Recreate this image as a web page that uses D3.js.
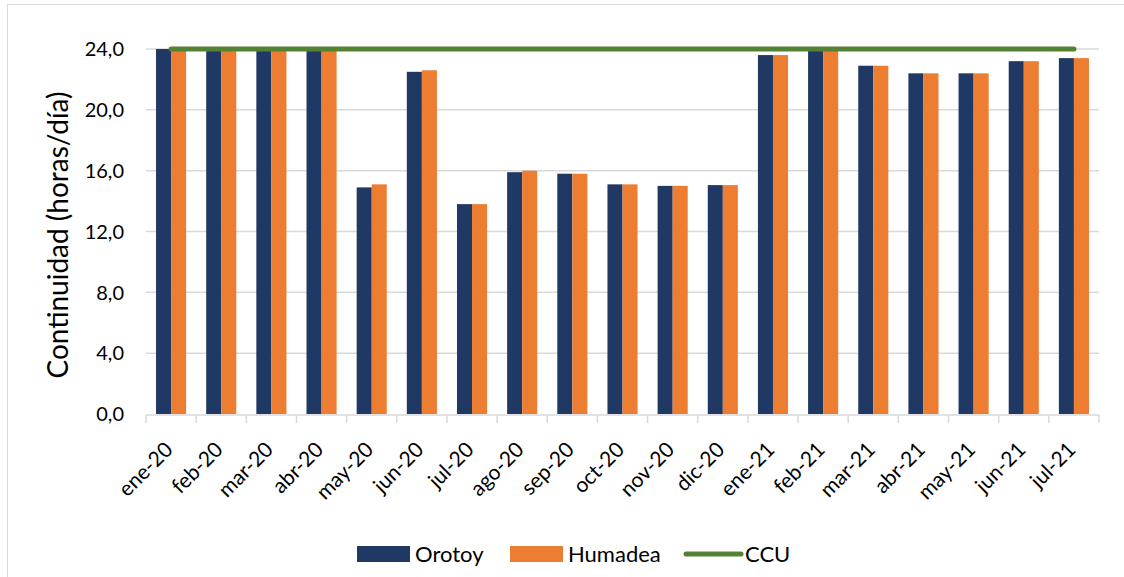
<!DOCTYPE html>
<html>
<head>
<meta charset="utf-8">
<script src="https://cdn.jsdelivr.net/npm/d3@7"></script>
<style>
  body { margin: 0; background: #fff; }
  text { font-family: Lato, "Open Sans", sans-serif; fill: #000; }
</style>
</head>
<body>
<svg id="chart" width="1124" height="577"></svg>
<script>
// monthly continuity, hours per day
var months = ["ene-20","feb-20","mar-20","abr-20","may-20","jun-20","jul-20","ago-20","sep-20",
              "oct-20","nov-20","dic-20","ene-21","feb-21","mar-21","abr-21","may-21","jun-21","jul-21"]
var orotoy   = [24.0,24.0,24.0,24.0,14.9,22.5,13.8,15.9,15.8,15.1,15.0,15.05,23.6,24.0,22.9,22.4,22.4,23.2,23.4]
var humadea  = [24.0,24.0,24.0,24.0,15.1,22.6,13.8,16.0,15.8,15.1,15.0,15.05,23.6,24.0,22.9,22.4,22.4,23.2,23.4]
var ccu      = [24,24,24,24,24,24,24,24,24,24,24,24,24,24,24,24,24,24,24]
var yTicks   = [0,4,8,12,16,20,24]
var seriesNames = ["Orotoy","Humadea","CCU"]
var colors = {Orotoy:"#203864", Humadea:"#ED7D31", CCU:"#548235"}

var svg = d3.select("#chart")

// chart area border (runs off the picture at right and bottom)
svg.append("rect")
	.attr("x",7.5).attr("y",4.5)
	.attr("width",1130).attr("height",590)
	.style("fill","none").style("stroke","#d9d9d9")

var pLeft = 146, pRight = 1099, pTop = 49, pBottom = 414
var x = d3.scaleBand().domain(months).range([pLeft,pRight]).paddingInner(0.4).paddingOuter(0.2)
var xs = d3.scaleBand().domain(["Orotoy","Humadea"]).range([0,x.bandwidth()])
var y = d3.scaleLinear().domain([0,24]).range([pBottom,pTop])

// gridlines
svg.append("g").selectAll("line")
	.data(yTicks.filter(function(d){return d>0}))
	.enter().append("line")
	.attr("x1",pLeft).attr("x2",pRight)
	.attr("y1",function(d){return y(d)}).attr("y2",function(d){return y(d)})
	.style("stroke","#d9d9d9").style("stroke-width",1.5)

// y tick labels
svg.append("g").selectAll("text")
	.data(yTicks).enter().append("text")
	.attr("x",124).attr("y",function(d){return y(d)})
	.attr("dy","0.36em")
	.attr("text-anchor","end")
	.style("font-size","20px")
	.text(function(d){return d3.format(".1f")(d).replace(".",",")})

svg.append("text")
	.attr("transform","translate(68,235) rotate(-90)")
	.attr("text-anchor","middle")
	.style("font-size","28px")
	.text("Continuidad (horas/día)")

// bars
var groups = svg.append("g").selectAll("g")
	.data(months).enter().append("g")
	.attr("transform",function(d){return "translate("+x(d)+",0)"})

groups.append("rect")
	.attr("x",xs("Orotoy")).attr("width",xs.bandwidth())
	.attr("y",function(d,i){return y(orotoy[i])})
	.attr("height",function(d,i){return pBottom-y(orotoy[i])})
	.style("fill",colors.Orotoy)
groups.append("rect")
	.attr("x",xs("Humadea")).attr("width",xs.bandwidth())
	.attr("y",function(d,i){return y(humadea[i])})
	.attr("height",function(d,i){return pBottom-y(humadea[i])})
	.style("fill",colors.Humadea)

// x axis
var xAxis = svg.append("g")
xAxis.append("line")
	.attr("x1",pLeft).attr("x2",pRight).attr("y1",pBottom+1).attr("y2",pBottom+1)
	.style("stroke","#d9d9d9").style("stroke-width",1.5)
xAxis.selectAll(".tick")
	.data(d3.range(months.length+1)).enter().append("line")
	.attr("x1",function(i){return pLeft+i*x.step()})
	.attr("x2",function(i){return pLeft+i*x.step()})
	.attr("y1",pBottom+1).attr("y2",pBottom+9)
	.style("stroke","#d9d9d9").style("stroke-width",1.5)
xAxis.selectAll("text")
	.data(months).enter().append("text")
	.attr("transform",function(d){
		var cx = x(d)+x.bandwidth()/2+3
		return "translate("+cx+","+(pBottom+37)+") rotate(-45)"})
	.attr("text-anchor","end")
	.style("font-size","21px")
	.text(function(d){return d})

// CCU line
var line = d3.line()
	.x(function(d,i){return x(months[i])+x.bandwidth()/2})
	.y(function(d){return y(d)})
svg.append("path")
	.datum(ccu)
	.attr("d",line)
	.style("fill","none")
	.style("stroke",colors.CCU)
	.style("stroke-width",5)
	.style("stroke-linecap","round")

// legend
var legend = svg.append("g")
var lx = [357,510,686]
seriesNames.forEach(function(name,i){
	if (name == "CCU") {
		legend.append("line")
			.attr("x1",lx[i]).attr("x2",lx[i]+55).attr("y1",554).attr("y2",554)
			.style("stroke",colors.CCU).style("stroke-width",5).style("stroke-linecap","round")
		legend.append("text").attr("x",lx[i]+59).attr("y",554).attr("dy","0.36em")
			.style("font-size","22px").text(name)
	} else {
		legend.append("rect")
			.attr("x",lx[i]).attr("y",546).attr("width",53).attr("height",16)
			.style("fill",colors[name])
		legend.append("text").attr("x",lx[i]+58).attr("y",554).attr("dy","0.36em")
			.style("font-size","22px").text(name)
	}
})
</script>
</body>
</html>
